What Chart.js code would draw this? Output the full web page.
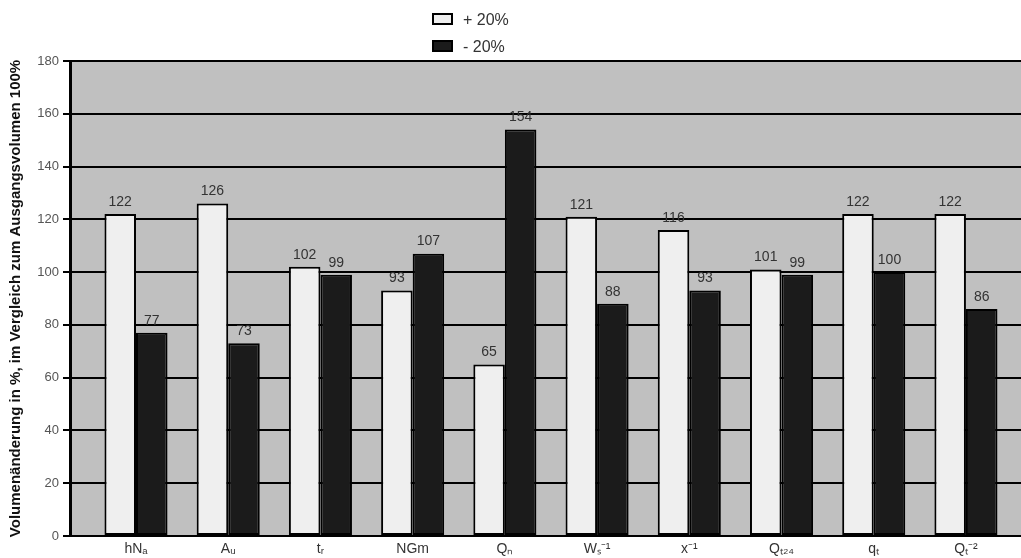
<!DOCTYPE html>
<html>
<head>
<meta charset="utf-8">
<title>Volumenänderung</title>
<style>
  html, body { margin: 0; padding: 0; background: #ffffff; }
  #wrap { width: 1021px; height: 558px; position: relative; }
</style>
<script src="https://cdn.jsdelivr.net/npm/chart.js@4.4.1/dist/chart.umd.min.js"></script>
</head>
<body>
<div id="wrap"><canvas id="chart" width="1021" height="558"></canvas></div>
<script>
// Parameters varied in the sensitivity run
const categories = ['hNₐ', 'Aᵤ', 'tᵣ', 'NGm', 'Qₙ', 'Wₛ⁻¹', 'x⁻¹', 'Qₜ₂₄', 'qₜ', 'Qₜ⁻²'];
// Resulting volume (%) when the parameter is raised by 20 %
const plus20 = [122, 126, 102, 93, 65, 121, 116, 101, 122, 122];
// Resulting volume (%) when the parameter is lowered by 20 %
const minus20 = [77, 73, 99, 107, 154, 88, 93, 99, 100, 86];
const seriesNames = ['+ 20%', '- 20%'];
const yMin = 0, yMax = 180, yStep = 20;

const FONT = "'Liberation Sans', Arial, sans-serif";

// Grey plot area behind the bars
const plotBackground = {
  id: 'plotBackground',
  beforeDraw(chart) {
    const { ctx, chartArea: a } = chart;
    ctx.save();
    ctx.fillStyle = '#c0c0c0';
    ctx.fillRect(a.left, a.top, a.right - a.left, a.bottom - a.top);
    ctx.restore();
  }
};

// Value written above every bar
const valueLabels = {
  id: 'valueLabels',
  afterDatasetsDraw(chart) {
    const { ctx } = chart;
    ctx.save();
    ctx.font = '14px ' + FONT;
    ctx.fillStyle = '#333333';
    ctx.textAlign = 'center';
    ctx.textBaseline = 'bottom';
    chart.data.datasets.forEach((ds, di) => {
      chart.getDatasetMeta(di).data.forEach((bar, i) => {
        ctx.fillText(String(ds.data[i].y), bar.x, bar.y - 5);
      });
    });
    ctx.restore();
  }
};

// Stacked legend above the plot, one entry per row
const stackedLegend = {
  id: 'stackedLegend',
  afterDraw(chart) {
    const { ctx } = chart;
    const left = 432, top = 13, rowGap = 27, boxW = 21, boxH = 12;
    ctx.save();
    ctx.font = '16px ' + FONT;
    ctx.textBaseline = 'middle';
    ctx.textAlign = 'left';
    chart.data.datasets.forEach((ds, i) => {
      const y = top + i * rowGap;
      ctx.fillStyle = ds.backgroundColor;
      ctx.fillRect(left, y, boxW, boxH);
      ctx.lineWidth = 2;
      ctx.strokeStyle = '#000000';
      ctx.strokeRect(left + 1, y + 1, boxW - 2, boxH - 2);
      ctx.fillStyle = '#333333';
      ctx.fillText(ds.label, left + boxW + 10, y + boxH / 2 + 2);
    });
    ctx.restore();
  }
};

const ctx = document.getElementById('chart').getContext('2d');
new Chart(ctx, {
  type: 'bar',
  data: {
    datasets: [
      {
        label: seriesNames[0],
        data: plus20.map((v, i) => ({ x: i, y: v })),
        backgroundColor: '#efefef',
        borderColor: '#000000',
        borderWidth: 2,
        borderSkipped: false
      },
      {
        label: seriesNames[1],
        data: minus20.map((v, i) => ({ x: i, y: v })),
        backgroundColor: '#1b1b1b',
        borderColor: '#000000',
        borderWidth: 2,
        borderSkipped: false
      }
    ]
  },
  options: {
    responsive: false,
    animation: false,
    devicePixelRatio: 1,
    categoryPercentage: 0.684,
    barPercentage: 1.0,
    layout: { padding: { top: 61, right: 0, bottom: 0, left: 0 } },
    plugins: {
      legend: { display: false },
      tooltip: { enabled: false },
      title: { display: false }
    },
    scales: {
      x: {
        type: 'linear',
        offset: false,
        min: -0.7157,
        max: 9.597,
        grid: { display: false, drawTicks: false, offset: false },
        border: { display: true, color: '#000000', width: 2 },
        ticks: {
          stepSize: 1,
          includeBounds: false,
          autoSkip: false,
          maxRotation: 0,
          padding: 5,
          color: '#333333',
          font: { family: FONT, size: 14 },
          callback: (v) => (Number.isInteger(v) && categories[v] !== undefined ? categories[v] : '')
        },
        afterFit(scale) { scale.height = 22; }
      },
      y: {
        min: yMin,
        max: yMax,
        grid: { color: '#000000', lineWidth: 2, tickLength: 7 },
        border: { display: true, color: '#000000', width: 3 },
        ticks: {
          stepSize: yStep,
          padding: 4,
          color: '#555555',
          font: { family: FONT, size: 13 }
        },
        title: {
          display: true,
          text: 'Volumenänderung in %, im Vergleich zum Ausgangsvolumen 100%',
          color: '#111111',
          font: { family: FONT, size: 15, weight: 'bold' },
          padding: { top: 7, bottom: 0 }
        },
        afterFit(scale) { scale.width = 70; }
      }
    }
  },
  plugins: [plotBackground, valueLabels, stackedLegend]
});
</script>
</body>
</html>
